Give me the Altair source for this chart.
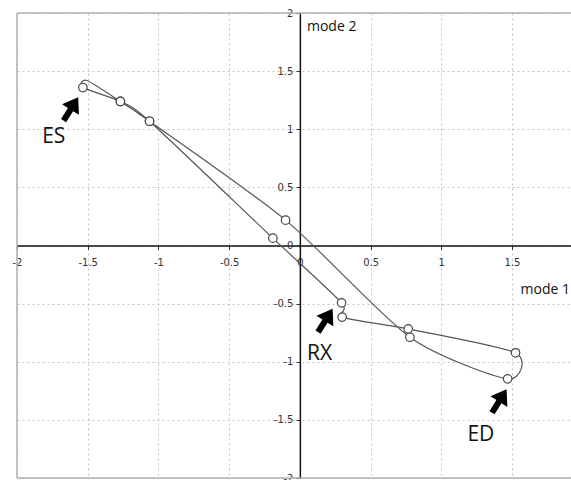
import altair as alt
import pandas as pd

# trajectory in drawing order (closed loop); marked = drawn with an open circle
traj_x = [-1.534, -1.506, -1.269, -1.063, -0.101, 0.778, 1.469, 1.525, 0.766, 0.299, 0.295, -0.191, -1.063, -1.269]
traj_y = [1.359, 1.419, 1.239, 1.069, 0.218, -0.789, -1.147, -0.923, -0.717, -0.616, -0.493, 0.063, 1.069, 1.239]
marked = [1, 0, 1, 1, 1, 1, 1, 1, 1, 1, 1, 1, 1, 1]

# annotations
label_text = ["ES", "RX", "ED"]
label_x = [-1.74, 0.14, 1.28]
label_y = [0.93, -0.93, -1.63]
arrow_x = [-1.619, 0.180, 1.410]
arrow_y = [1.174, -0.645, -1.338]

mode_text = ["mode 2", "mode 1"]
mode_x = [0.05, 1.56]
mode_y = [1.88, -0.38]

tick_values = [-2, -1.5, -1, -0.5, 0, 0.5, 1, 1.5, 2]
x_domain = [-2, 1.917]
y_domain = [-2, 2]

W, H = 554, 465
x0_px = (0 - x_domain[0]) / (x_domain[1] - x_domain[0]) * W
y0_px = (y_domain[1] - 0) / (y_domain[1] - y_domain[0]) * H

traj = pd.DataFrame({"x": traj_x, "y": traj_y, "m": marked, "i": list(range(len(traj_x)))})
labels = pd.DataFrame({"x": label_x, "y": label_y, "t": label_text})
arrows = pd.DataFrame({"x": arrow_x, "y": arrow_y})
modes = pd.DataFrame({"x": mode_x, "y": mode_y, "t": mode_text})
frame = pd.DataFrame({
    "x": [x_domain[0], x_domain[0], x_domain[0]],
    "x2": [x_domain[0], x_domain[1], x_domain[1]],
    "y": [y_domain[0], y_domain[1], y_domain[0]],
    "y2": [y_domain[1], y_domain[1], y_domain[0]],
})

common_axis = dict(
    values=tick_values, grid=True, gridDash=[2, 3], gridColor="#c4c4c4", gridWidth=1,
    domainColor="#111111", domainWidth=1.5, tickColor="#333333", tickSize=4,
    labelFont="DejaVu Sans", labelFontSize=10, labelColor="#333333",
    labelFlush=False, labelOverlap=False, labelBound=False, title=None,
    labelExpr="'' + datum.value",
)
x_axis = alt.Axis(offset=-(H - y0_px), labelPadding=8, **common_axis)
y_axis = alt.Axis(offset=-x0_px, labelPadding=3, **common_axis)
xs = alt.Scale(domain=x_domain, nice=False, zero=False)
ys = alt.Scale(domain=y_domain, nice=False, zero=False)


def X(f="x"):
    return alt.X(f"{f}:Q", scale=xs, axis=x_axis)


def Y(f="y"):
    return alt.Y(f"{f}:Q", scale=ys, axis=y_axis)


border = alt.Chart(frame).mark_rule(color="#b0b0b0", strokeWidth=1.5).encode(
    x=X(), x2="x2:Q", y=Y(), y2="y2:Q"
)

line = alt.Chart(traj).mark_line(
    interpolate="cardinal-closed", tension=0.25, color="#555555", strokeWidth=1.2
).encode(x=X(), y=Y(), order="i:Q")

pts = alt.Chart(traj).transform_filter("datum.m == 1").mark_point(
    shape="circle", filled=True, fill="white", stroke="#444444", strokeWidth=1.2,
    size=72, opacity=1
).encode(x=X(), y=Y())

arrow_path = "M0,-1 L0.72,0.05 L0.22,0.05 L0.22,1 L-0.22,1 L-0.22,0.05 L-0.72,0.05 Z"
arr = alt.Chart(arrows).mark_point(
    shape=arrow_path, filled=True, color="#000000", size=760, angle=32, opacity=1
).encode(x=X(), y=Y())

txt = alt.Chart(labels).mark_text(
    font="Open Sans", fontSize=21, color="#111111", align="center", baseline="middle"
).encode(x=X(), y=Y(), text="t:N")

mtxt = alt.Chart(modes).mark_text(
    font="Open Sans", fontSize=14, color="#111111", align="left", baseline="middle", clip=True
).encode(x=X(), y=Y(), text="t:N")

chart = alt.layer(border, line, pts, arr, txt, mtxt).properties(
    width=W, height=H,
    autosize=alt.AutoSizeParams(type="none"),
    padding={"left": 17, "top": 13, "right": 0, "bottom": 2},
    background="white",
).configure_view(stroke=None)

chart.save("out.html", embed_options={"renderer": "svg", "actions": False})
